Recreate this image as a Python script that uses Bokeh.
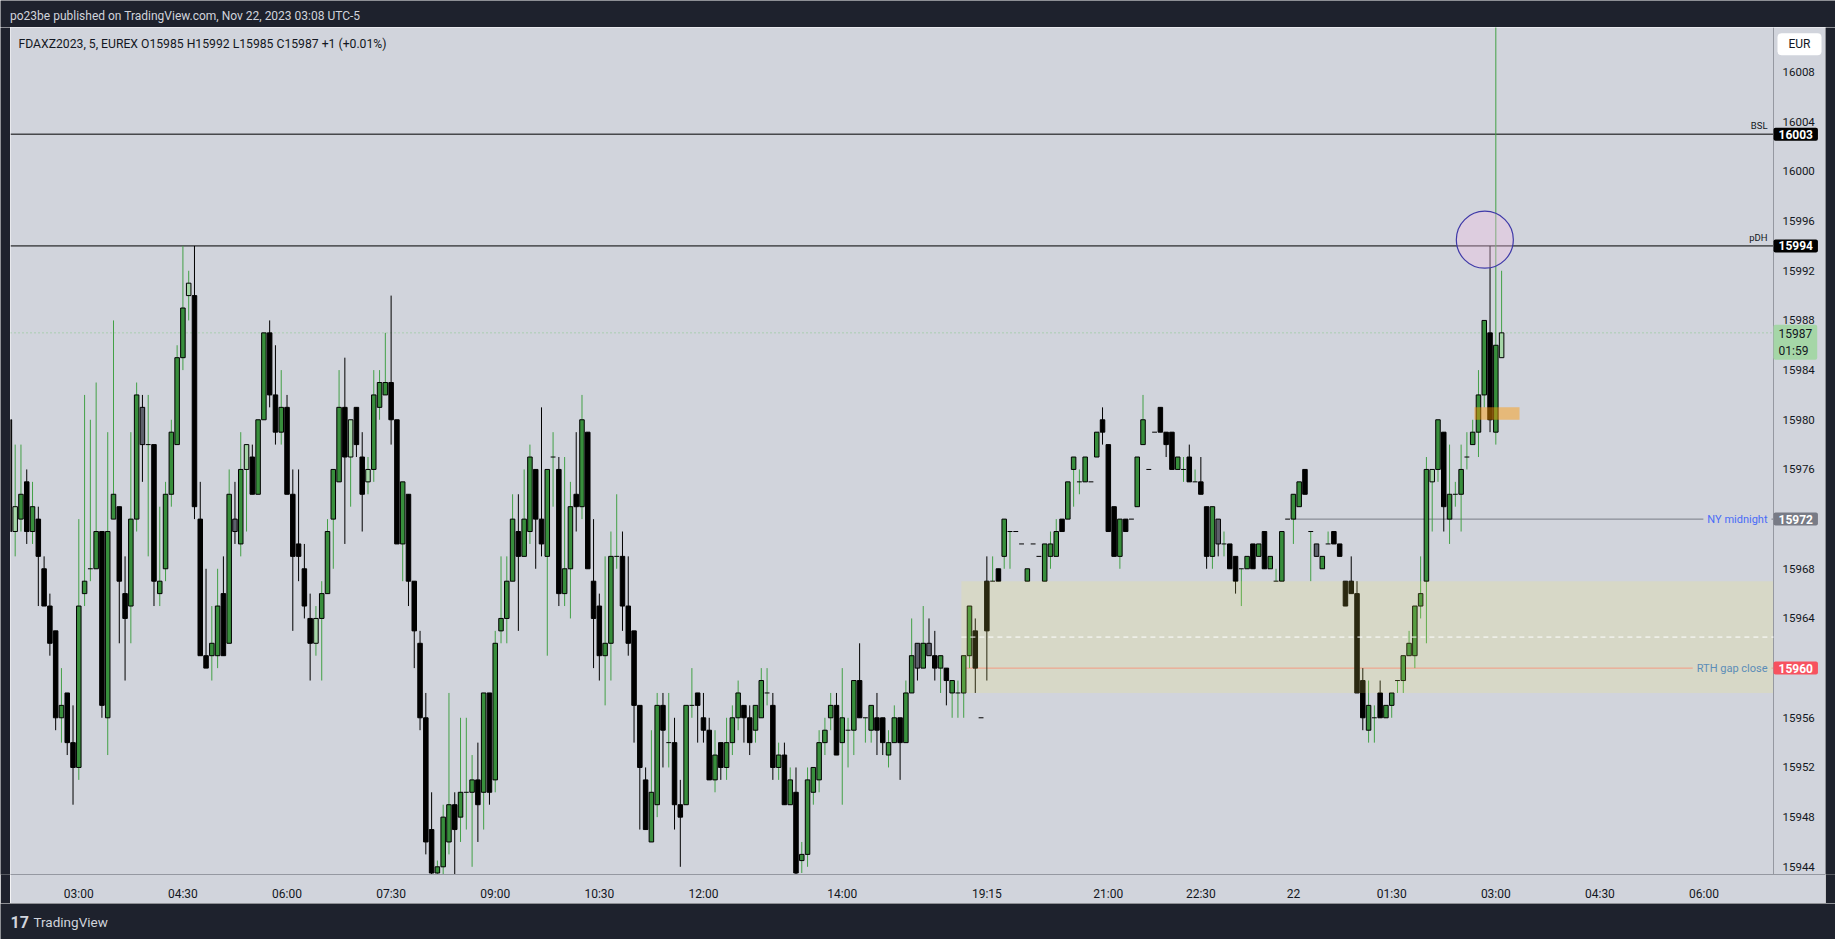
from bokeh.plotting import figure
from bokeh.layouts import column, row
from bokeh.models import ColumnDataSource, Range1d, FixedTicker, Span, BoxAnnotation, Label
from bokeh.core.properties import value
from bokeh.embed import file_html
from bokeh.resources import INLINE

# FDAX Z2023, 5 minute bars, bar 0 = 02:00 (UTC-5) on Nov 21, last bar = 03:05 on Nov 22
opens = [
    15980, 15971, 15972, 15975, 15971, 15972, 15968, 15965, 15963, 15956,
    15958, 15954, 15952, 15966, 15968, 15968, 15971, 15956, 15972, 15973,
    15966, 15965, 15972, 15981, 15978, 15978, 15966, 15968, 15974, 15978,
    15985, 15990, 15990, 15972, 15961, 15961, 15961, 15966, 15962, 15972,
    15970, 15976, 15977, 15974, 15980, 15987, 15982, 15979, 15981, 15974,
    15970, 15968, 15964, 15962, 15964, 15966, 15972, 15975, 15981, 15977,
    15981, 15977, 15975, 15976, 15981, 15982, 15983, 15980, 15970, 15974,
    15967, 15962, 15956, 15947, 15943.5, 15944, 15946, 15949, 15948, 15950,
    15950, 15951, 15950, 15958, 15951, 15963, 15964, 15967, 15971, 15969,
    15971, 15976, 15972, 15969, 15977, 15976, 15966, 15968, 15974, 15973,
    15979, 15967, 15965, 15961, 15962, 15969, 15969, 15965, 15963, 15957,
    15951, 15946, 15949, 15957, 15954, 15954, 15949, 15949, 15957, 15958,
    15956, 15955, 15951, 15954, 15952, 15954, 15956, 15957, 15956, 15955,
    15956, 15958, 15957, 15952, 15953, 15949, 15950, 15944.5, 15945, 15950,
    15951, 15954, 15956, 15957, 15954, 15955, 15955, 15959, 15956, 15955,
    15956, 15956, 15953, 15954, 15956, 15954, 15958, 15962, 15960, 15962,
    15961, 15960, 15960, 15958, 15958, 15958, 15961, 15963, 15956, 15967,
    15967, 15968, 15969, 15971, 15971, 15970, 15967, 15970, 15969, 15967,
    15969, 15969, 15972, 15972, 15976, 15975, 15975, 15975, 15977, 15980,
    15978, 15973, 15969, 15972, 15972, 15973, 15978, 15976, 15979, 15981,
    15979, 15979, 15976, 15976, 15977, 15975, 15975, 15973, 15969, 15972,
    15970, 15970, 15969, 15968, 15968, 15970, 15969, 15971, 15968, 15967,
    15967, 15972, 15972, 15973, 15976, 15971, 15970, 15968, 15970, 15971,
    15970, 15967, 15967, 15966, 15959, 15955, 15956, 15958, 15956, 15957,
    15959, 15959, 15961, 15961, 15965, 15967, 15975, 15976, 15979, 15972,
    15974, 15974, 15977, 15978, 15979, 15982, 15987, 15979, 15985,
]
highs = [
    15981, 15978, 15978, 15976, 15975, 15973, 15969, 15966, 15963, 15960,
    15958, 15957, 15972, 15982, 15980, 15983, 15971, 15979, 15988, 15973,
    15969, 15979, 15983, 15982, 15982, 15978, 15973, 15975, 15980, 15986,
    15994, 15992, 15994, 15975, 15968, 15965, 15968, 15969, 15976, 15975,
    15979, 15978, 15978, 15980, 15987, 15988, 15986, 15984, 15982, 15976,
    15976, 15970, 15966, 15965, 15967, 15972, 15976, 15984, 15985, 15980,
    15981, 15979, 15977, 15984, 15984, 15987, 15990, 15980, 15975, 15974,
    15967, 15963, 15958, 15950, 15944.5, 15949, 15958, 15950, 15956, 15956,
    15953, 15954, 15958, 15958, 15963, 15969, 15969, 15974, 15974, 15976,
    15978, 15976, 15981, 15976, 15979, 15977, 15977, 15975, 15979, 15982,
    15979, 15972, 15966, 15969, 15971, 15974, 15971, 15969, 15963, 15957,
    15952, 15955, 15958, 15958, 15958, 15956, 15951, 15957, 15960, 15958,
    15958, 15956, 15955, 15954, 15956, 15957, 15959, 15957, 15957, 15957,
    15960, 15960, 15958, 15954, 15954, 15952, 15952, 15946, 15952, 15952,
    15955, 15956, 15958, 15958, 15960, 15956, 15959, 15962, 15956, 15957,
    15958, 15956, 15955, 15957, 15956, 15959, 15964, 15962, 15965, 15964,
    15963, 15961, 15960, 15959, 15959, 15961, 15965, 15964, 15956, 15969,
    15969, 15968, 15972, 15971, 15971, 15970, 15968, 15970, 15969, 15970,
    15971, 15972, 15972, 15975, 15977, 15976, 15977, 15975, 15979, 15981,
    15978, 15973, 15972, 15972, 15972, 15977, 15982, 15976, 15979, 15981,
    15979, 15979, 15977, 15977, 15978, 15976, 15977, 15973, 15973, 15972,
    15971, 15970, 15969, 15968, 15969, 15970, 15970, 15971, 15969, 15968,
    15971, 15972, 15974, 15975, 15976, 15971, 15970, 15969, 15971, 15971,
    15970, 15967, 15969, 15967, 15960, 15959, 15957, 15959, 15957, 15958,
    15959, 15961, 15963, 15965, 15969, 15977, 15976, 15980, 15979, 15978,
    15975, 15978, 15979, 15980, 15984, 15988, 15994, 16013, 15992,
]
lows = [
    15970, 15969, 15971, 15970, 15970, 15965, 15965, 15961, 15955, 15954,
    15953, 15949, 15951, 15965, 15967, 15968, 15956, 15953, 15972, 15962,
    15959, 15962, 15971, 15975, 15969, 15965, 15965, 15967, 15973, 15978,
    15984, 15988, 15972, 15961, 15960, 15959, 15960, 15961, 15962, 15970,
    15969, 15971, 15974, 15974, 15980, 15981, 15978, 15978, 15974, 15963,
    15967, 15964, 15959, 15961, 15959, 15966, 15968, 15975, 15970, 15973,
    15977, 15971, 15974, 15975, 15980, 15982, 15978, 15970, 15967, 15965,
    15960, 15955, 15945, 15943, 15943, 15943, 15945, 15943, 15946, 15947,
    15944, 15946, 15947, 15949, 15950, 15962, 15962, 15967, 15963, 15969,
    15970, 15968, 15969, 15961, 15973, 15965, 15965, 15964, 15971, 15972,
    15968, 15960, 15959, 15957, 15959, 15968, 15963, 15961, 15954, 15947,
    15947, 15946, 15948, 15952, 15952, 15947, 15944, 15949, 15956, 15954,
    15954, 15951, 15950, 15951, 15951, 15953, 15955, 15954, 15953, 15954,
    15956, 15957, 15951, 15951, 15949, 15949, 15943, 15943.5, 15944, 15949,
    15950, 15953, 15955, 15953, 15949, 15952, 15953, 15956, 15954, 15954,
    15953, 15953, 15952, 15954, 15951, 15954, 15958, 15959, 15960, 15961,
    15959, 15958, 15957, 15956, 15956, 15956, 15960, 15958, 15956, 15959,
    15967, 15967, 15968, 15968, 15971, 15970, 15967, 15970, 15969, 15967,
    15968, 15969, 15971, 15972, 15973, 15974, 15975, 15975, 15977, 15978,
    15971, 15969, 15968, 15971, 15972, 15973, 15978, 15976, 15979, 15979,
    15977, 15976, 15976, 15975, 15975, 15975, 15974, 15968, 15968, 15969,
    15969, 15968, 15966, 15965, 15968, 15968, 15969, 15968, 15968, 15967,
    15967, 15972, 15970, 15973, 15974, 15967, 15969, 15968, 15970, 15970,
    15969, 15965, 15966, 15958, 15955, 15954, 15954, 15956, 15956, 15956,
    15958, 15958, 15961, 15960, 15964, 15962, 15971, 15975, 15971, 15970,
    15973, 15971, 15976, 15978, 15977, 15981, 15979, 15978, 15985,
]
closes = [
    15971, 15973, 15974, 15971, 15973, 15969, 15965, 15962, 15956, 15957,
    15954, 15952, 15965, 15967, 15968, 15971, 15957, 15971, 15974, 15967,
    15964, 15972, 15982, 15978, 15978, 15967, 15967, 15974, 15979, 15985,
    15989, 15991, 15973, 15961, 15960, 15962, 15965, 15961, 15974, 15971,
    15976, 15978, 15974, 15980, 15987, 15982, 15979, 15981, 15974, 15969,
    15969, 15965, 15962, 15964, 15966, 15971, 15976, 15981, 15977, 15980,
    15978, 15974, 15976, 15982, 15983, 15983, 15980, 15970, 15975, 15967,
    15963, 15956, 15946, 15943.5, 15944, 15948, 15949, 15947, 15950, 15950,
    15951, 15949, 15958, 15950, 15962, 15964, 15967, 15972, 15969, 15972,
    15977, 15972, 15970, 15976, 15977, 15966, 15968, 15973, 15973, 15980,
    15968, 15964, 15961, 15962, 15969, 15969, 15965, 15962, 15957, 15952,
    15947, 15950, 15957, 15955, 15954, 15949, 15948, 15957, 15957, 15957,
    15955, 15951, 15953, 15952, 15954, 15956, 15958, 15956, 15954, 15957,
    15959, 15958, 15952, 15953, 15949, 15951, 15943.5, 15945, 15951, 15952,
    15954, 15955, 15957, 15953, 15956, 15955, 15959, 15956, 15956, 15957,
    15955, 15954, 15954, 15956, 15954, 15958, 15961, 15960, 15962, 15961,
    15960, 15961, 15959, 15959, 15958, 15961, 15965, 15960, 15956, 15963,
    15967, 15967, 15972, 15971, 15971, 15970, 15968, 15970, 15969, 15970,
    15970, 15971, 15971, 15975, 15977, 15975, 15977, 15975, 15979, 15979,
    15971, 15969, 15972, 15971, 15972, 15977, 15980, 15976, 15979, 15979,
    15978, 15976, 15977, 15976, 15975, 15975, 15974, 15969, 15973, 15970,
    15970, 15968, 15967, 15968, 15969, 15968, 15970, 15968, 15969, 15967,
    15971, 15972, 15974, 15975, 15974, 15971, 15969, 15969, 15970, 15970,
    15969, 15965, 15966, 15958, 15956, 15957, 15956, 15956, 15957, 15958,
    15959, 15961, 15962, 15965, 15966, 15976, 15976, 15980, 15973, 15974,
    15974, 15976, 15977, 15979, 15982, 15988, 15980, 15986, 15987,
]
# bar colouring: u = up, d = down, l = light (low volume up), g = grey (low volume down)
kinds = list(
    "dlududdddu" "dduuuuduud" "duuguduuuu" "ulddduudug" "ulduuddudd"
    "dddluuuudl" "ddluuuddud" "dddduuuduu" "ududuuuudu" "udduuduudu"
    "ddduuudddd" "duududduud" "dduduuuddu" "uudududuuu" "uuuduuuduu"
    "dduuduugug" "duduuuuddd" "uduudduddu" "uuduuuudud" "ddudduuddd"
    "dduududdug" "udduududuu" "uduuduguud" "ddddduuduu" "uuuuuuludu"
    "uuuuuudul"
)

time_tick_bars = [12, 30, 48, 66, 84, 102, 120, 144, 169, 190, 206, 222, 239, 257, 275, 293]
time_tick_labels = ["03:00", "04:30", "06:00", "07:30", "09:00", "10:30", "12:00", "14:00",
                    "19:15", "21:00", "22:30", "22", "01:30", "03:00", "04:30", "06:00"]
price_ticks = [15944, 15948, 15952, 15956, 15960, 15964, 15968, 15972, 15976,
               15980, 15984, 15988, 15992, 15996, 16000, 16004, 16008]

bsl = 16003
pdh = 15994
ny_midnight = 15972
rth_gap = 15960
last_price = 15987
countdown = "01:59"
zone_low, zone_high = 15958, 15967
zone_start_bar = 164.6
ny_start_bar = 222
fvg_left, fvg_right, fvg_low, fvg_high = 253.3, 261.1, 15980, 15981
circle_bar, circle_price = 255.1, 15994.5

BG = "#d1d4dc"
DARK = "#1e222d"
TXT = "#131722"
FONT = "Roboto"
UP, DOWN, LIGHT, GREY = "#388e3c", "#000000", "#a5d6a7", "#5d606b"
WICK_UP = "#43a047"

# x in bar numbers: chart left edge, price-scale edge, panel right edge
X_PANEL, X_EDGE, X_PANEL_END = 0.191, 305.01, 314.0
Y_BOTTOM, Y_TOP = 15943.38, 16011.59

fill_map = {"u": UP, "d": DOWN, "l": LIGHT, "g": GREY}
wick_map = {"u": WICK_UP, "l": WICK_UP, "d": "#000000", "g": "#000000"}

xs = list(range(len(opens)))
src = ColumnDataSource(dict(
    x=xs, o=opens, h=highs, l=lows, c=closes,
    top=[max(a, b) for a, b in zip(opens, closes)],
    bottom=[min(a, b) for a, b in zip(opens, closes)],
    fill=[fill_map[k] for k in kinds],
    wick=[wick_map[k] for k in kinds],
))
doji = [i for i in xs if opens[i] == closes[i]]
body = [i for i in xs if opens[i] != closes[i]]
body_src = ColumnDataSource({k: [v[i] for i in body] for k, v in src.data.items()})
doji_src = ColumnDataSource(dict(
    x0=[i - 0.42 for i in doji], x1=[i + 0.42 for i in doji], y=[opens[i] for i in doji]))

W = 1835


def dark_box(width, height):
    f = figure(width=width, height=height, x_range=Range1d(0, width), y_range=Range1d(0, height),
               toolbar_location=None, output_backend="svg", min_border=0,
               x_axis_type=None, y_axis_type=None, background_fill_color=DARK,
               border_fill_color=DARK, outline_line_color=None)
    f.grid.visible = False
    return f


# ---- header bar
head = dark_box(W, 27)
head.add_layout(Label(x=9.5, y=12, text="po23be published on TradingView.com, Nov 22, 2023 03:08 UTC-5",
                      text_font=FONT, text_font_size="12px", text_color="#d1d4dc",
                      text_baseline="middle"))

# ---- main chart
p = figure(width=1815, height=876, x_range=Range1d(X_PANEL, X_PANEL_END), y_range=Range1d(Y_BOTTOM, Y_TOP),
           y_axis_location=None, toolbar_location=None, output_backend="svg",
           min_border_left=0, min_border_right=0, min_border_top=0, min_border_bottom=26,
           background_fill_color=BG, border_fill_color=BG, outline_line_color=None)
p.grid.visible = False

p.xaxis.ticker = FixedTicker(ticks=time_tick_bars)
p.xaxis.major_label_overrides = dict(zip(time_tick_bars, time_tick_labels))
p.xaxis.axis_line_color = "#9598a1"
p.xaxis.major_tick_line_color = None
p.xaxis.minor_tick_line_color = None
p.xaxis.major_label_text_font = FONT
p.xaxis.major_label_text_color = TXT
p.xaxis.major_label_text_font_size = "12px"
p.xaxis.major_label_standoff = 6

# level lines
for lvl in (bsl, pdh):
    p.segment(x0=[X_PANEL], x1=[X_EDGE], y0=[lvl], y1=[lvl], line_color="#000000", line_width=1)
p.segment(x0=[X_PANEL], x1=[X_EDGE], y0=[last_price], y1=[last_price], line_color="#81c784",
          line_width=1, line_dash="1 3")
p.segment(x0=[ny_start_bar], x1=[X_EDGE], y0=[ny_midnight], y1=[ny_midnight],
          line_color="#787b86", line_width=1)
p.segment(x0=[zone_start_bar], x1=[X_EDGE], y0=[rth_gap], y1=[rth_gap],
          line_color="#f28b8b", line_width=1)

# candles
p.segment(x0="x", y0="h", x1="x", y1="l", line_color="wick", line_width=1, source=src)
p.vbar(x="x", width=0.78, top="top", bottom="bottom", fill_color="fill",
       line_color="#000000", line_width=1, source=body_src)
p.segment(x0="x0", x1="x1", y0="y", y1="y", line_color="#000000", line_width=1, source=doji_src)

# gap zone, fvg box, circle
p.add_layout(BoxAnnotation(left=zone_start_bar, right=X_EDGE, bottom=zone_low, top=zone_high,
                           fill_color="#f9ec5e", fill_alpha=0.17, line_color=None))
p.segment(x0=[zone_start_bar], x1=[X_EDGE], y0=[(zone_low + zone_high) / 2],
          y1=[(zone_low + zone_high) / 2], line_color="white", line_width=1,
          line_dash="5 4", level="overlay")
p.add_layout(BoxAnnotation(left=fvg_left, right=fvg_right, bottom=fvg_low, top=fvg_high,
                           fill_color="#ff9800", fill_alpha=0.45, line_color=None))
p.scatter(x=[circle_bar], y=[circle_price], marker="circle", size=57,
          fill_color="#f3c0e6", fill_alpha=0.35, line_color="#3f3aa8", line_width=1.2)

# price scale border
p.add_layout(Span(location=X_EDGE, dimension="height", line_color="#9598a1", line_width=1))

# price scale labels
p.text(x=[X_EDGE] * len(price_ticks), y=price_ticks, text=[str(t) for t in price_ticks],
       x_offset=9, text_baseline="middle", text_font=value(FONT), text_font_size="11.5px",
       text_color=TXT)

# line captions
def caption(text, y, color, bg=None, size="11px", baseline="middle", yoff=0):
    p.add_layout(Label(x=X_EDGE, y=y, x_offset=-2, y_offset=yoff, text=text,
                       text_align="right", text_baseline=baseline, text_font=FONT,
                       text_font_size=size, text_color=color,
                       background_fill_color=bg,
                       padding={"left": 4, "right": 4, "top": 0, "bottom": 0}))

caption("BSL", bsl, TXT, size="9.5px", baseline="bottom", yoff=3)
caption("pDH", pdh, TXT, size="9.5px", baseline="bottom", yoff=3)
caption("NY midnight", ny_midnight, "#4a6cf7", bg=BG)
caption("RTH gap close", rth_gap, "#5b8db8", bg="#d8d8c6")

# price scale tags
def tag(text, y, bg, color="white", bold=True, yoff=0, baseline="middle"):
    p.add_layout(Label(x=X_EDGE, y=y, x_offset=0, y_offset=yoff, text=text,
                       text_align="left", text_baseline=baseline, text_font=FONT,
                       text_font_size="12px", text_color=color,
                       text_font_style="bold" if bold else "normal",
                       background_fill_color=bg, border_radius=2,
                       padding={"left": 5, "right": 5, "top": 2, "bottom": 2}))

tag(str(bsl), bsl, "#000000")
tag(str(pdh), pdh, "#000000")
tag(str(ny_midnight), ny_midnight, "#787b86")
tag(str(rth_gap), rth_gap, "#f7525f")
tag(f"{last_price}\n{countdown}", last_price, "#a5d6a7", color=TXT, bold=False, yoff=8, baseline="top")

p.add_layout(Label(x=X_EDGE, y=16010.24, x_offset=4, text="EUR", text_baseline="middle",
                   text_font=FONT, text_font_size="12px", text_color=TXT,
                   background_fill_color="white", border_radius=4,
                   padding={"left": 11, "right": 11, "top": 4, "bottom": 4}))

p.add_layout(Label(x=X_PANEL, y=Y_TOP, x_offset=8, y_offset=-16,
                   text="FDAXZ2023, 5, EUREX  O15985  H15992  L15985  C15987  +1 (+0.01%)",
                   text_baseline="middle", text_font=FONT, text_font_size="12.2px", text_color=TXT))

# ---- footer bar
foot = dark_box(W, 36)
foot.add_layout(Label(x=10, y=17.3, text="17", text_font=FONT, text_font_size="16px",
                      text_font_style="bold", text_color="#d1d4dc", text_baseline="middle"))
foot.add_layout(Label(x=33, y=17.3, text="TradingView", text_font=FONT, text_font_size="13.5px",
                      text_color="#d1d4dc", text_baseline="middle"))

layout = column(head, row(dark_box(10, 876), p, dark_box(10, 876)), foot)
open("out.html", "w").write(file_html(layout, INLINE))
